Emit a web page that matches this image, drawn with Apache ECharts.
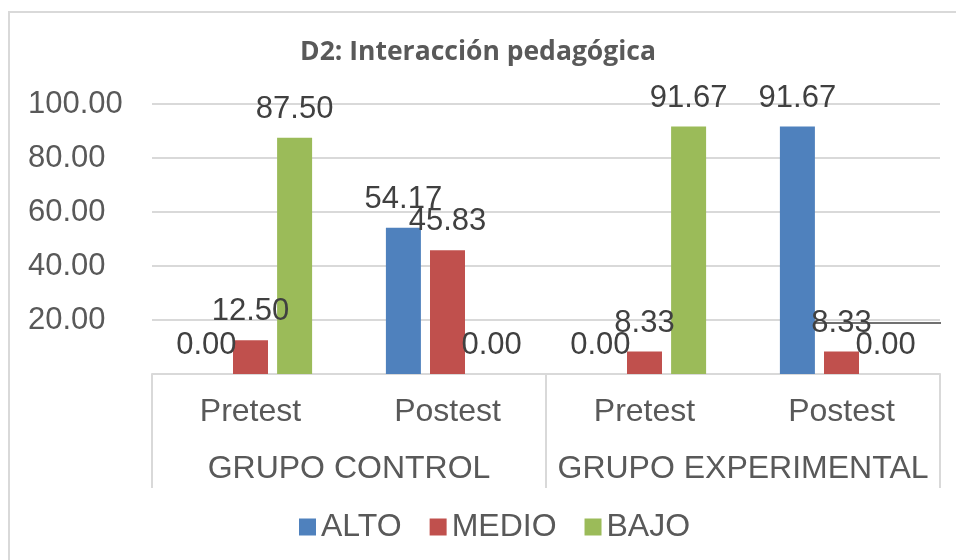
<!DOCTYPE html>
<html>
<head>
<meta charset="utf-8">
<script src="https://cdn.jsdelivr.net/npm/echarts@6/dist/echarts.min.js"></script>
<style>
  html, body { margin: 0; padding: 0; background: #fff; }
  #chart { width: 956px; height: 560px; }
</style>
</head>
<body>
<div id="chart"></div>
<script>
var subCats = ['Pretest', 'Postest', 'Pretest', 'Postest'];
var groupCats = ['GRUPO CONTROL', 'GRUPO EXPERIMENTAL'];
var seriesNames = ['ALTO', 'MEDIO', 'BAJO'];
var alto = [0.00, 54.17, 0.00, 91.67];
var medio = [12.50, 45.83, 8.33, 8.33];
var bajo = [87.50, 0.00, 91.67, 0.00];
var colors = ['#4f81bd', '#c0504d', '#9bbb59'];

var fontFam = 'Liberation Sans, Arial, sans-serif';
var chart = echarts.init(document.getElementById('chart'));

function makeSeries(name, data) {
	return {
		name : name,
		type : 'bar',
		xAxisIndex : 0,
		barWidth : 35,
		barGap : '26%',
		data : data,
		label : {
			show : true,
			position : 'top',
			distance : 13,
			color : '#404040',
			fontSize : 31,
			fontFamily : fontFam,
			formatter : function(p) {
				return p.value.toFixed(2);
			}
		}
	};
}

var option = {
	color : colors,
	animation : false,
	title : {
		text : 'D2: Interacción pedagógica',
		left : 'center',
		top : 34,
		textStyle : {
			fontSize : 26.5,
			fontWeight : 'bold',
			color : '#595959',
			fontFamily : 'Open Sans, sans-serif'
		}
	},
	legend : {
		bottom : 12,
		left : 294,
		itemWidth : 17,
		itemHeight : 17,
		itemGap : 28,
		icon : 'rect',
		data : seriesNames,
		textStyle : {
			fontSize : 32,
			color : '#595959',
			fontFamily : fontFam
		}
	},
	grid : {
		left : 152,
		right : 16,
		top : 104,
		bottom : 186,
		containLabel : false
	},
	xAxis : [ {
		type : 'category',
		data : subCats,
		position : 'bottom',
		axisLine : {
			lineStyle : { color : '#d9d9d9', width : 2 }
		},
		axisTick : { show : false },
		axisLabel : {
			interval : 0,
			margin : 22,
			fontSize : 32,
			color : '#595959',
			fontFamily : fontFam
		}
	}, {
		type : 'category',
		data : groupCats,
		position : 'bottom',
		axisLine : { show : false },
		axisTick : {
			show : true,
			length : 114,
			lineStyle : { color : '#d9d9d9', width : 2 }
		},
		axisLabel : {
			interval : 0,
			margin : 79,
			fontSize : 32,
			color : '#595959',
			fontFamily : fontFam
		}
	} ],
	yAxis : {
		type : 'value',
		min : 0,
		max : 100,
		interval : 20,
		axisLine : { show : false },
		axisTick : { show : false },
		splitLine : {
			lineStyle : { color : '#d9d9d9', width : 2 }
		},
		axisLabel : {
			showMinLabel : false,
			align : 'left',
			margin : 124,
			fontSize : 31,
			color : '#595959',
			fontFamily : fontFam,
			formatter : function(v) {
				return v.toFixed(2);
			}
		}
	},
	graphic : [ {
		type : 'rect',
		shape : { x : 9, y : 12, width : 980, height : 600 },
		style : { fill : 'none', stroke : '#d9d9d9', lineWidth : 2 },
		silent : true
	}, {
		type : 'line',
		shape : { x1 : 811, y1 : 323, x2 : 941, y2 : 323 },
		style : { stroke : '#404040', lineWidth : 1.5 },
		silent : true
	} ],
	series : [
		makeSeries(seriesNames[0], alto),
		makeSeries(seriesNames[1], medio),
		makeSeries(seriesNames[2], bajo)
	]
};
chart.setOption(option);
</script>
</body>
</html>
